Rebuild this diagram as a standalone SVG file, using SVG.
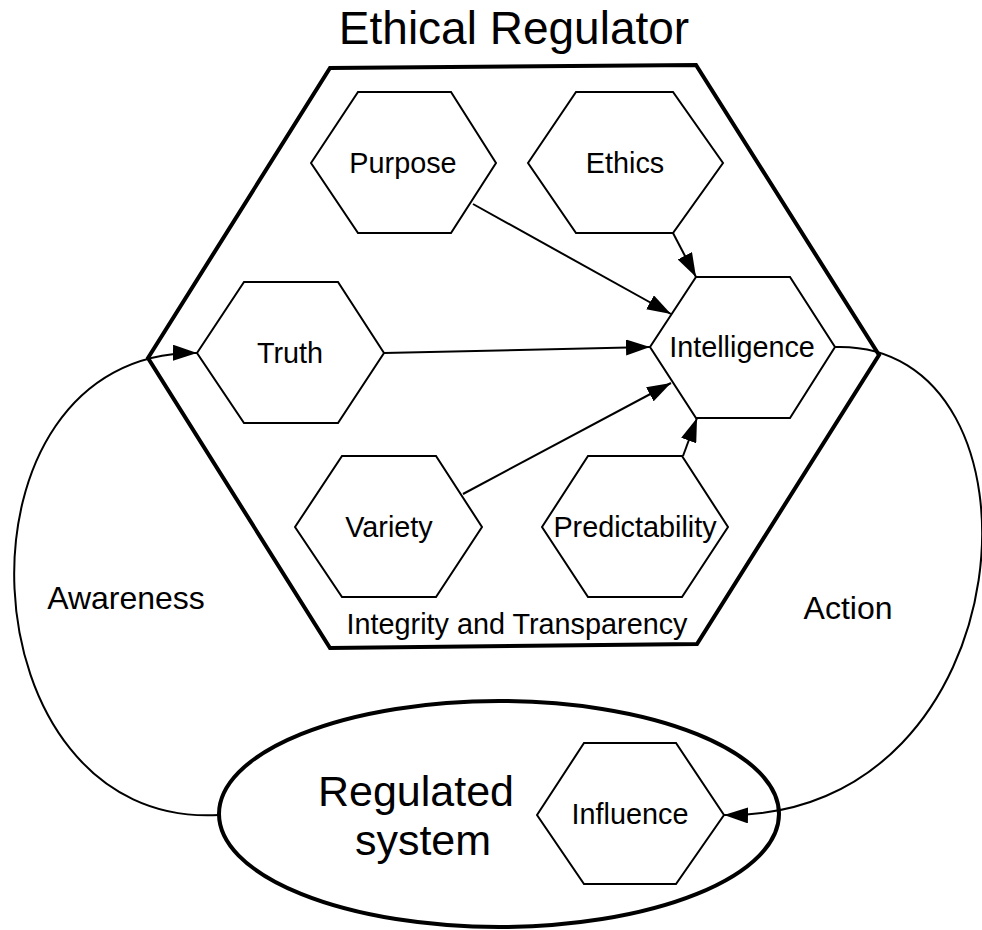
<svg xmlns="http://www.w3.org/2000/svg" width="982" height="930" viewBox="0 0 982 930">
<style>
text{font-family:"Liberation Sans",Arial,sans-serif;fill:#000;text-anchor:middle}
.hex{fill:#fff;stroke:#000;stroke-width:2}
.big{fill:none;stroke:#000;stroke-width:4;stroke-linejoin:miter}
.conn{fill:none;stroke:#000;stroke-width:2}
.lbl{font-size:28.8px}
.side{font-size:32px}
</style>
<defs>
<marker id="arr" viewBox="0 0 24 16" refX="24" refY="8" markerWidth="24" markerHeight="16" markerUnits="userSpaceOnUse" orient="auto">
<path d="M0,0 L24,8 L0,16 z" fill="#000"/>
</marker>
</defs>
<rect width="982" height="930" fill="#fff"/>
<g id="regulator">
<polygon class="big" points="148,358 330,68 696,65 879,355 697,644 330,648"/>
<text x="514" y="44" style="font-size:46px">Ethical Regulator</text>
<text x="517" y="634" class="lbl">Integrity and Transparency</text>
</g>
<g id="regulated-system">
<ellipse cx="499" cy="814" rx="280" ry="113" fill="#fff" stroke="#000" stroke-width="4"/>
<text x="416" y="806" style="font-size:43px">Regulated</text>
<text x="423" y="855" style="font-size:43px">system</text>
</g>
<g id="purpose"><polygon class="hex" points="311,163 358,92 451,92 496,163 451,233 358,233"/><text x="403" y="173" class="lbl">Purpose</text></g>
<g id="ethics"><polygon class="hex" points="528,163 576,92 673,92 723,163 673,233 576,233"/><text x="625" y="173" class="lbl">Ethics</text></g>
<g id="intelligence"><polygon class="hex" points="650,347 696,277 790,277 835,347 790,418 696,418"/><text x="742" y="357" class="lbl">Intelligence</text></g>
<g id="truth"><polygon class="hex" points="197,353 244,282 338,282 384,353 338,423 244,423"/><text x="290" y="363" class="lbl">Truth</text></g>
<g id="variety"><polygon class="hex" points="295,527 342,456 436,456 482,527 436,597 342,597"/><text x="389" y="537" class="lbl">Variety</text></g>
<g id="predictability"><polygon class="hex" points="542,527 588,456 682,456 728,527 682,597 588,597"/><text x="635" y="537" class="lbl">Predictability</text></g>
<g id="influence"><polygon class="hex" points="537,815 584,743 676,743 724,815 676,884 584,884"/><text x="630" y="824" class="lbl">Influence</text></g>
<g id="connectors">
<line class="conn" x1="473" y1="204" x2="671" y2="314" marker-end="url(#arr)"/>
<line class="conn" x1="673" y1="233" x2="696" y2="277" marker-end="url(#arr)"/>
<line class="conn" x1="384" y1="353" x2="650" y2="347" marker-end="url(#arr)"/>
<line class="conn" x1="463" y1="494" x2="671" y2="383" marker-end="url(#arr)"/>
<line class="conn" x1="683" y1="456" x2="697" y2="418" marker-end="url(#arr)"/>
<path class="conn" d="M219,815 C-40,830 -60,350 197,353" marker-end="url(#arr)"/>
<path class="conn" d="M835,347 C1060,340 1030,820 724,815" marker-end="url(#arr)"/>
<text x="126" y="609" class="side">Awareness</text>
<text x="848" y="619" class="side">Action</text>
</g>
</svg>
